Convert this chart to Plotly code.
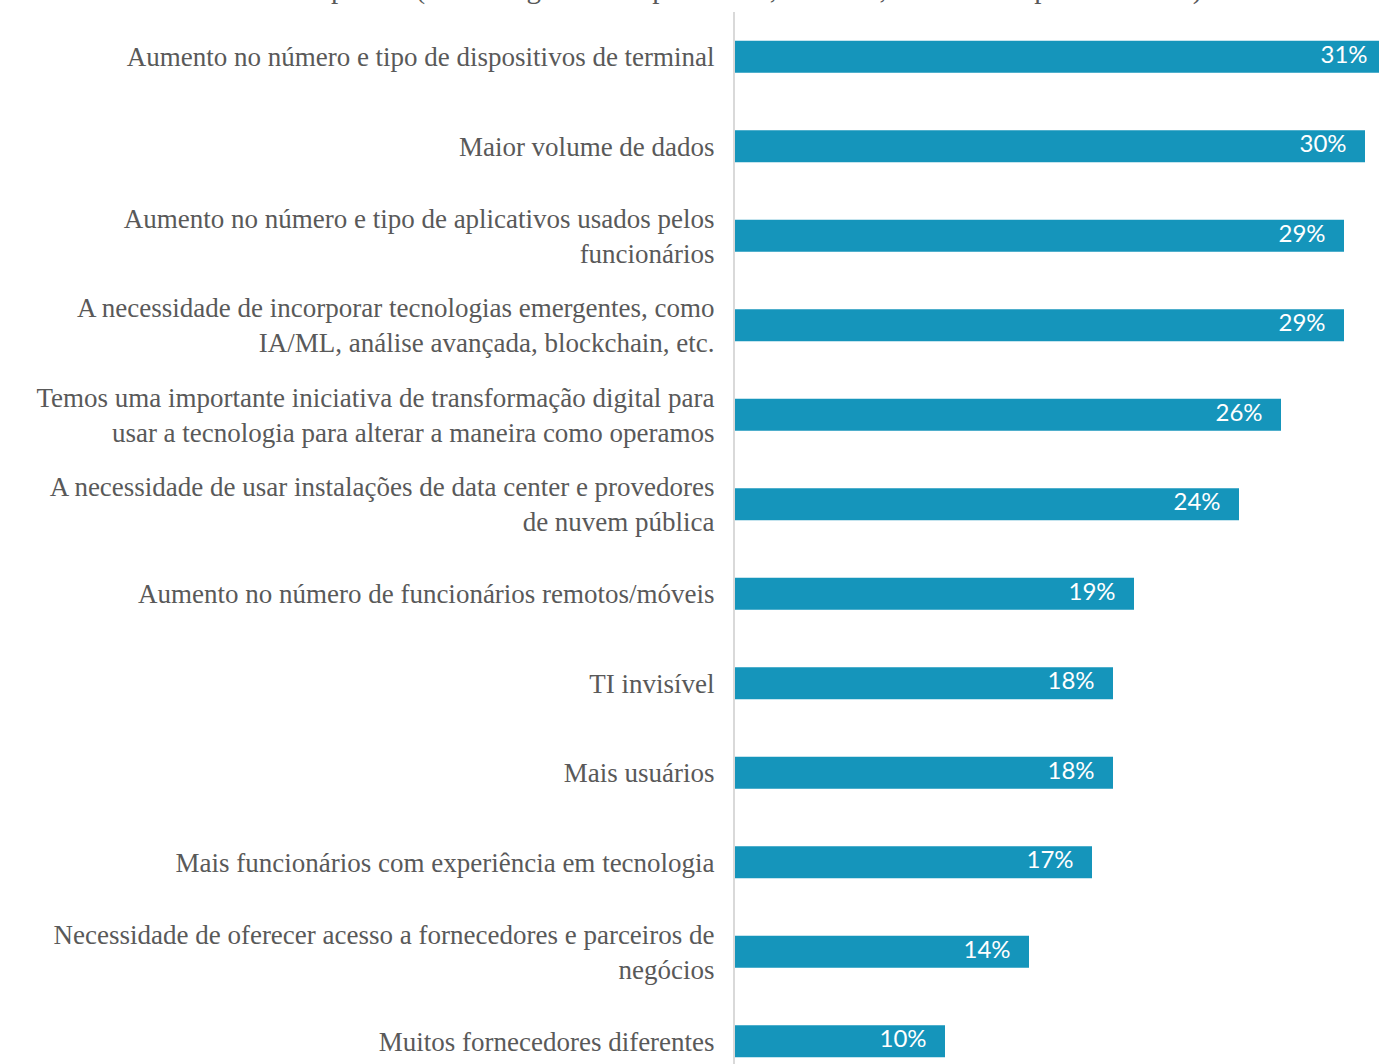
import plotly.graph_objects as go

categories = [
    "Aumento no número e tipo de dispositivos de terminal",
    "Maior volume de dados",
    "Aumento no número e tipo de aplicativos usados pelos<br>funcionários",
    "A necessidade de incorporar tecnologias emergentes, como<br>IA/ML, análise avançada, blockchain, etc.",
    "Temos uma importante iniciativa de transformação digital para<br>usar a tecnologia para alterar a maneira como operamos",
    "A necessidade de usar instalações de data center e provedores<br>de nuvem pública",
    "Aumento no número de funcionários remotos/móveis",
    "TI invisível",
    "Mais usuários",
    "Mais funcionários com experiência em tecnologia",
    "Necessidade de oferecer acesso a fornecedores e parceiros de<br>negócios",
    "Muitos fornecedores diferentes",
]
values = [31, 30, 29, 29, 26, 24, 19, 18, 18, 17, 14, 10]
title_line = "complexo? (Porcentagem de respondentes, N = 300, com três respostas aceitas)"

BAR_COLOR = "#1595bb"
LABEL_COLOR = "#595959"
PAD = "\u00a0" * 3

fig = go.Figure()
fig.add_trace(go.Bar(
    x=values, y=categories, orientation="h",
    marker=dict(color=BAR_COLOR, line=dict(width=0)),
    width=0.357, hoverinfo="skip",
))
fig.add_trace(go.Scatter(
    x=values, y=categories, mode="text",
    text=[f"{v}%{PAD}" for v in values],
    textposition="middle left",
    textfont=dict(family="Lato", size=24, color="white"),
    hoverinfo="skip", cliponaxis=True,
))

fig.add_annotation(
    text=title_line, xref="paper", yref="paper", x=0.011, y=1.0, yshift=5,
    xanchor="center", yanchor="bottom", showarrow=False,
    font=dict(family="Liberation Serif", size=29, color=LABEL_COLOR),
)

fig.update_layout(
    width=1379, height=1064,
    margin=dict(l=735, r=0, t=12, b=0, autoexpand=False),
    paper_bgcolor="white", plot_bgcolor="white",
    showlegend=False,
    xaxis=dict(range=[0, 644 / 21], visible=False, showgrid=False, zeroline=False),
    yaxis=dict(
        type="category", range=[11.254, -0.5],
        showgrid=False, zeroline=False,
        showline=True, linecolor="#d9d9d9", linewidth=2,
        ticks="", ticklabelstandoff=13,
        tickfont=dict(family="Liberation Serif", size=27, color=LABEL_COLOR),
    ),
)

fig.write_html(
    "out.html",
    config={"displayModeBar": False},
    post_script="document.body.style.margin='0';document.body.style.overflow='hidden';",
)
